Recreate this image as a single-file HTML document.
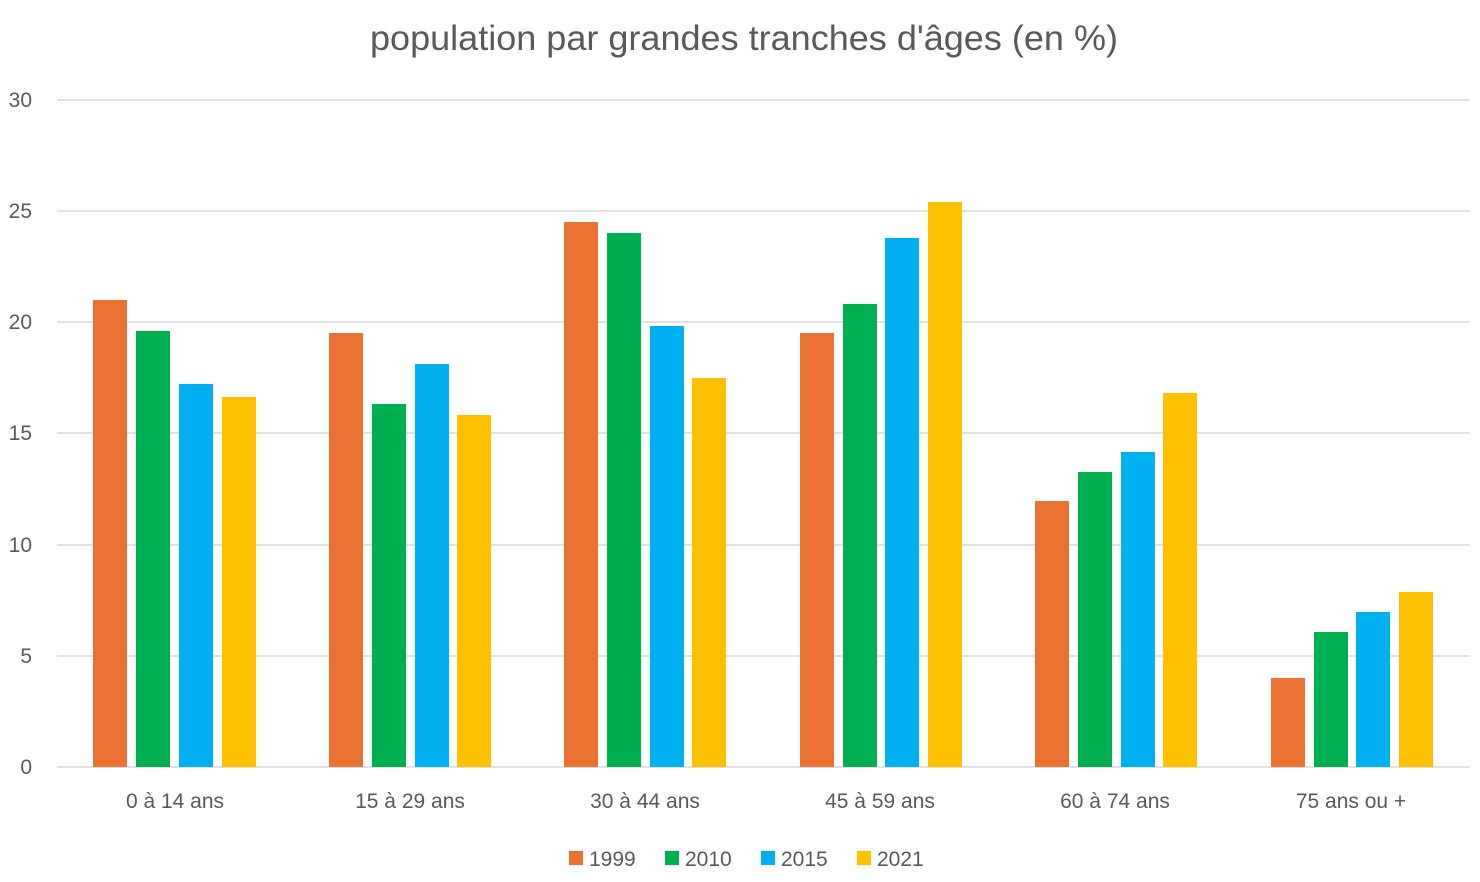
<!DOCTYPE html>
<html><head><style>body{margin:0;background:#fff}svg{display:block}</style></head><body>
<svg width="1480" height="882" xmlns="http://www.w3.org/2000/svg" font-family="Liberation Sans, sans-serif">
<rect width="1480" height="882" fill="#fff"/>
<text x="744" y="50" text-anchor="middle" font-size="35" fill="#595959" textLength="748" lengthAdjust="spacingAndGlyphs">population par grandes tranches d'âges (en %)</text>
<g stroke="#d9d9d9" stroke-width="1.5">
<line x1="57" x2="1470" y1="100" y2="100"/><line x1="57" x2="1470" y1="211" y2="211"/>
<line x1="57" x2="1470" y1="322" y2="322"/><line x1="57" x2="1470" y1="433" y2="433"/>
<line x1="57" x2="1470" y1="545" y2="545"/><line x1="57" x2="1470" y1="656" y2="656"/>
<line x1="57" x2="1470" y1="767" y2="767"/></g>
<g font-size="21" fill="#595959" text-anchor="end">
<text x="32" y="107">30</text><text x="32" y="218">25</text><text x="32" y="329">20</text>
<text x="32" y="440">15</text><text x="32" y="552">10</text><text x="32" y="663">5</text><text x="32" y="774">0</text></g>
<g font-size="21" fill="#595959" text-anchor="middle">
<text x="175" y="808">0 à 14 ans</text><text x="410" y="808">15 à 29 ans</text><text x="645" y="808">30 à 44 ans</text>
<text x="880" y="808">45 à 59 ans</text><text x="1115" y="808">60 à 74 ans</text><text x="1351" y="808">75 ans ou +</text></g>
<g font-size="21" fill="#595959">
<rect x="569" y="851" width="14" height="14" fill="#E97132"/><text x="589" y="866">1999</text>
<rect x="665" y="851" width="14" height="14" fill="#00B050"/><text x="685" y="866">2010</text>
<rect x="761" y="851" width="14" height="14" fill="#00B0F0"/><text x="781" y="866">2015</text>
<rect x="857" y="851" width="14" height="14" fill="#FFC000"/><text x="877" y="866">2021</text></g>
<g>
<rect x="93" y="300" width="34" height="467" fill="#E97132"/><rect x="136" y="331" width="34" height="436" fill="#00B050"/><rect x="179" y="384" width="34" height="383" fill="#00B0F0"/><rect x="222" y="397" width="34" height="370" fill="#FFC000"/>
<rect x="329" y="333" width="34" height="434" fill="#E97132"/><rect x="372" y="404" width="34" height="363" fill="#00B050"/><rect x="415" y="364" width="34" height="403" fill="#00B0F0"/><rect x="457" y="415" width="34" height="352" fill="#FFC000"/>
<rect x="564" y="222" width="34" height="545" fill="#E97132"/><rect x="607" y="233" width="34" height="534" fill="#00B050"/><rect x="650" y="326" width="34" height="441" fill="#00B0F0"/><rect x="692" y="378" width="34" height="389" fill="#FFC000"/>
<rect x="800" y="333" width="34" height="434" fill="#E97132"/><rect x="843" y="304" width="34" height="463" fill="#00B050"/><rect x="885" y="238" width="34" height="529" fill="#00B0F0"/><rect x="928" y="202" width="34" height="565" fill="#FFC000"/>
<rect x="1035" y="501" width="34" height="266" fill="#E97132"/><rect x="1078" y="472" width="34" height="295" fill="#00B050"/><rect x="1121" y="452" width="34" height="315" fill="#00B0F0"/><rect x="1163" y="393" width="34" height="374" fill="#FFC000"/>
<rect x="1271" y="678" width="34" height="89" fill="#E97132"/><rect x="1314" y="632" width="34" height="135" fill="#00B050"/><rect x="1356" y="612" width="34" height="155" fill="#00B0F0"/><rect x="1399" y="592" width="34" height="175" fill="#FFC000"/>
</g>
</svg>
</body></html>
